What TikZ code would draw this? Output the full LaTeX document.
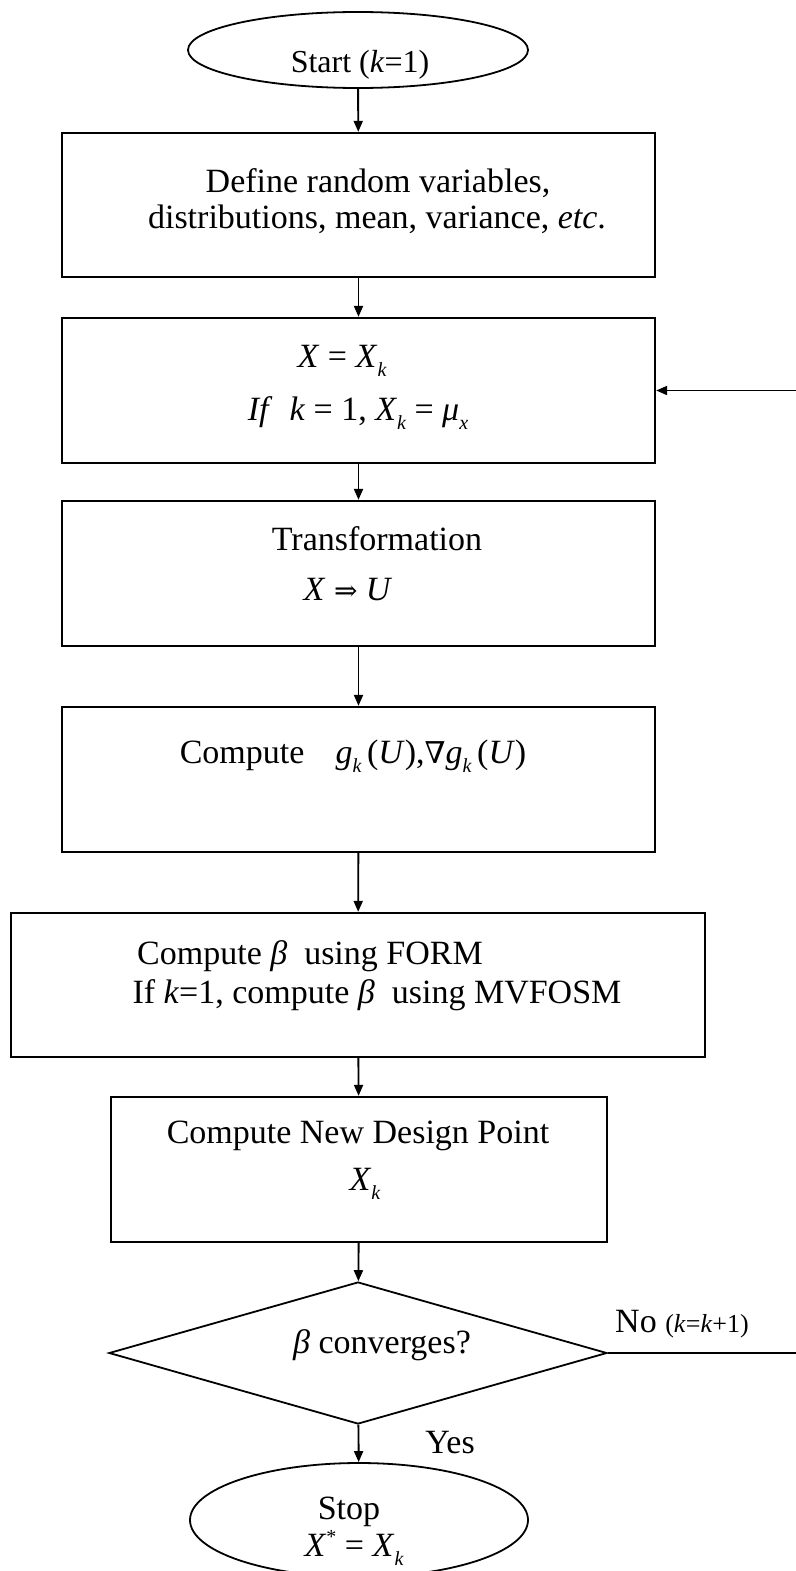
\documentclass[tikz,border=0pt]{standalone}
\usepackage{fontspec}
\setmainfont{Liberation Serif}
\newfontfamily\symf{DejaVu Serif}
\usetikzlibrary{shapes.geometric,arrows.meta}
\newcommand{\vi}[1]{\textit{#1}}
\newcommand{\sbk}[1]{\raisebox{-0.28em}{\fontsize{20}{20}\selectfont\itshape #1}}
\newcommand{\spk}[1]{\raisebox{0.36em}{\fontsize{20}{20}\selectfont #1}}
\begin{document}
\begin{tikzpicture}[x=1pt,y=-1pt,
  box/.style={draw,rectangle,line width=2.3pt,inner sep=0pt},
  oval/.style={draw,ellipse,line width=1.8pt,inner sep=0pt},
  dec/.style={draw,diamond,line width=1.8pt,inner sep=0pt},
  txt/.style={inner sep=0pt,anchor=base,font=\fontsize{34}{40}\selectfont},
  arr/.style={-{Triangle[length=11pt,width=9pt]},line width=1.9pt}]
\useasboundingbox (0,0) rectangle (795,1571);
% shapes
\node[oval,minimum width=340pt,minimum height=76pt] (start) at (358,50) {};
\node[box,minimum width=593pt,minimum height=144pt] (b1) at (358.5,205) {};
\node[box,minimum width=593pt,minimum height=145pt] (b2) at (358.5,390.5) {};
\node[box,minimum width=593pt,minimum height=145pt] (b3) at (358.5,573.5) {};
\node[box,minimum width=593pt,minimum height=145pt] (b4) at (358.5,779.5) {};
\node[box,minimum width=694pt,minimum height=144pt] (b5) at (358,985) {};
\node[box,minimum width=496pt,minimum height=145pt] (b6) at (359,1169.5) {};
\node[dec,minimum width=498pt,minimum height=142pt] (dia) at (358,1353) {};
\node[oval,minimum width=338pt,minimum height=114pt] (stop) at (359,1520) {};
% texts
\node[txt,font=\fontsize{32}{38}\selectfont] (tstart) at (360,73) {Start (\vi{k}=1)};
\node[txt] (t1a) at (378,192) {Define random variables,};
\node[txt] (t1b) at (377,228) {distributions, mean, variance, \vi{etc}.};
\node[txt] (t2a) at (342,367) {\vi{X} = \vi{X}\sbk{k}};
\node[txt] (t2b) at (358,420) {\vi{If}\enspace \vi{k} = 1, \vi{X}\sbk{k} = \vi{μ}\sbk{x}};
\node[txt] (t3a) at (377,550) {Transformation};
\node[txt] (t3b) at (348,600) {\vi{X} {\symf\fontsize{28}{30}\selectfont ⇒} \vi{U}};
\node[txt] (t4) at (353,763) {Compute\enspace\, \vi{g}\sbk{k}\,(\vi{U}),{\symf\fontsize{30}{30}\selectfont ∇}\vi{g}\sbk{k}\,(\vi{U})};
\node[txt] (t5a) at (310,964) {Compute \vi{β}\enspace using FORM};
\node[txt] (t5b) at (377,1003) {If \vi{k}=1, compute \vi{β}\enspace using MVFOSM};
\node[txt] (t6a) at (358,1143) {Compute New Design Point};
\node[txt] (t6b) at (365,1190) {\vi{X}\sbk{k}};
\node[txt] (tdia) at (382,1353) {\vi{β} converges?};
\node[txt,anchor=base west] (tno) at (615,1332) {No {\fontsize{26}{30}\selectfont(\vi{k}=\vi{k}+1)}};
\node[txt] (tyes) at (450,1453) {Yes};
\node[txt] (tstop) at (349,1519) {Stop};
\node[txt] (tstopx) at (354,1556) {\vi{X}\spk{*} = \vi{X}\sbk{k}};
% connectors
\draw[arr] (start) -- (b1);
\draw[arr] (b1) -- (b2);
\draw[arr] (b2) -- (b3);
\draw[arr] (b3) -- (b4);
\draw[arr] (b4) -- (b5);
\draw[arr] (b5) -- (b6);
\draw[arr] (b6) -- (dia);
\draw[arr] (dia) -- (stop);
\coordinate (loopR) at (805,1353);
\draw[arr] (dia.east) -- (loopR) |- (b2.east);
\end{tikzpicture}
\end{document}
